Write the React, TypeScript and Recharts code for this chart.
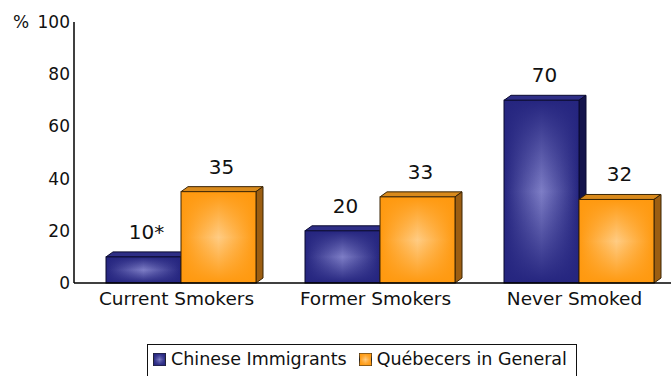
import { BarChart, Bar, XAxis, YAxis, LabelList } from 'recharts';

const categories = ['Current Smokers', 'Former Smokers', 'Never Smoked'];
const chineseImmigrants = [10, 20, 70];
const quebecers = [35, 33, 32];
const valueLabels = { chinese: ['10*', '20', '70'], quebec: ['35', '33', '32'] };
const yTicks = [0, 20, 40, 60, 80, 100];

const data = categories.map((name, i) => ({
  name,
  chinese: chineseImmigrants[i],
  quebec: quebecers[i],
}));

const FONT = '"DejaVu Sans", sans-serif';
const SHIFT = 7;
const DEPTH_X = 7;
const DEPTH_Y = 5;

const palettes = {
  chinese: { top: '#2e2e86', side: '#14144c', stroke: '#0a0a30' },
  quebec: { top: '#d98a1c', side: '#9c5e12', stroke: '#3a2405' },
};

function Bar3D(props: any) {
  const { x, y, width, height, dataKey } = props;
  const p = palettes[dataKey as 'chinese' | 'quebec'];
  const fx = x + SHIFT;
  const bottom = y + height;
  const top = `${fx},${y} ${fx + DEPTH_X},${y - DEPTH_Y} ${fx + width + DEPTH_X},${y - DEPTH_Y} ${fx + width},${y}`;
  const side = `${fx + width},${y} ${fx + width + DEPTH_X},${y - DEPTH_Y} ${fx + width + DEPTH_X},${bottom - DEPTH_Y} ${fx + width},${bottom}`;
  return (
    <g>
      <polygon points={top} fill={p.top} stroke={p.stroke} strokeWidth={1} />
      <polygon points={side} fill={p.side} stroke={p.stroke} strokeWidth={1} />
      <rect x={fx} y={y} width={width} height={height} fill={`url(#${dataKey}-h)`} />
      <rect x={fx} y={y} width={width} height={height} fill={`url(#${dataKey}-v)`} stroke={p.stroke} strokeWidth={1} />
    </g>
  );
}

function ValueLabel(props: any) {
  const { x, y, width, index, series } = props;
  return (
    <text
      x={x + SHIFT + width / 2 + 3}
      y={y - 18}
      textAnchor="middle"
      fontSize={20}
      fontFamily={FONT}
      fill="#111"
    >
      {valueLabels[series as 'chinese' | 'quebec'][index]}
    </text>
  );
}

function Swatch({ id }: { id: string }) {
  return (
    <svg width={13} height={13} style={{ verticalAlign: '-1px', marginRight: 5 }}>
      <rect x={0.5} y={0.5} width={12} height={12} fill={`url(#${id}-h)`} stroke="#222" />
      <rect x={0.5} y={0.5} width={12} height={12} fill={`url(#${id}-v)`} />
    </svg>
  );
}

function Gradients({ id, edge, center }: { id: string; edge: string; center: string }) {
  return (
    <>
      <linearGradient id={`${id}-h`} x1="0" y1="0" x2="1" y2="0">
        <stop offset="0%" stopColor={edge} />
        <stop offset="50%" stopColor={center} />
        <stop offset="100%" stopColor={edge} />
      </linearGradient>
      <linearGradient id={`${id}-v`} x1="0" y1="0" x2="0" y2="1">
        <stop offset="0%" stopColor={edge} stopOpacity={1} />
        <stop offset="50%" stopColor={edge} stopOpacity={0} />
        <stop offset="100%" stopColor={edge} stopOpacity={1} />
      </linearGradient>
    </>
  );
}

export default function App() {
  return (
    <div style={{ position: 'relative', width: 671, height: 376, overflow: 'hidden', fontFamily: FONT }}>
      <style>{'body{margin:0}'}</style>
      <svg width={0} height={0} style={{ position: 'absolute' }}>
        <defs>
          <Gradients id="chinese" edge="#25257f" center="#7e7ec6" />
          <Gradients id="quebec" edge="#ff990f" center="#ffcc84" />
        </defs>
      </svg>
      <BarChart
        width={671}
        height={376}
        data={data}
        margin={{ top: 22, right: 0, left: 0, bottom: 63 }}
        barGap={0}
        barSize={75}
      >
        <XAxis
          dataKey="name"
          height={30}
          tickLine={false}
          tickSize={0}
          tickMargin={9}
          axisLine={{ stroke: '#000', strokeWidth: 1.5 }}
          tick={{ fontSize: 18.5, fill: '#111', fontFamily: FONT, dx: 3 }}
        />
        <YAxis
          width={74}
          domain={[0, 100]}
          ticks={yTicks}
          interval={0}
          tickLine={false}
          tickSize={0}
          tickMargin={4}
          axisLine={{ stroke: '#000', strokeWidth: 1.5 }}
          tick={{ fontSize: 17, fill: '#111', fontFamily: FONT }}
          tickFormatter={(v: number) => (v === 100 ? '%\u2002100' : String(v))}
        />
        <Bar dataKey="chinese" shape={Bar3D} isAnimationActive={false}>
          <LabelList dataKey="chinese" content={(p: any) => <ValueLabel {...p} series="chinese" />} />
        </Bar>
        <Bar dataKey="quebec" shape={Bar3D} isAnimationActive={false}>
          <LabelList dataKey="quebec" content={(p: any) => <ValueLabel {...p} series="quebec" />} />
        </Bar>
      </BarChart>
      <div
        style={{
          position: 'absolute',
          left: 147,
          top: 344,
          width: 430,
          height: 40,
          border: '1.5px solid #111',
          boxSizing: 'border-box',
          padding: '4px 0 0 5px',
          fontSize: 17.5,
          color: '#111',
          whiteSpace: 'nowrap',
        }}
      >
        <Swatch id="chinese" />
        <span style={{ marginRight: 12 }}>Chinese Immigrants</span>
        <Swatch id="quebec" />
        <span>Québecers in General</span>
      </div>
    </div>
  );
}
